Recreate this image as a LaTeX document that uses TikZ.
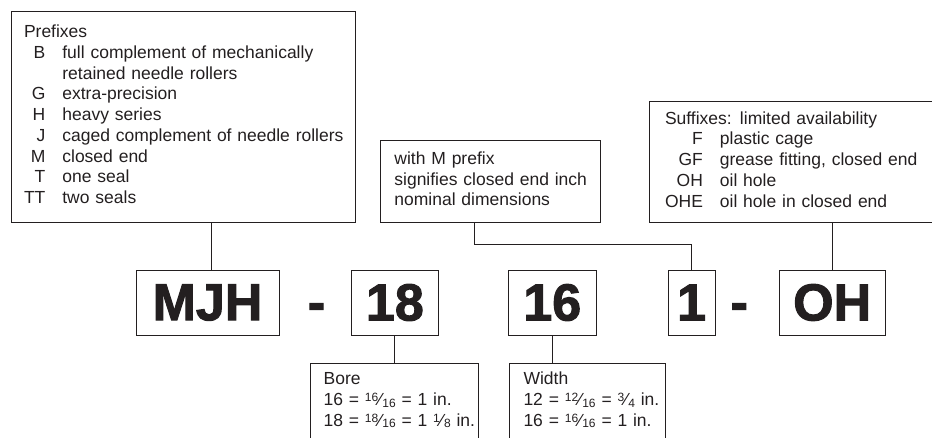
\documentclass[tikz,border=0pt]{standalone}
\usepackage{fontspec}
\setmainfont{Liberation Sans}
\newfontfamily\heavyfont{Liberation Sans Bold}[FakeBold=2]
\usepackage{tikz}
\usetikzlibrary{shapes,arrows, positioning}
\definecolor{ink}{RGB}{35,31,32}
\tikzstyle{tbox} = [draw = ink, line width = 0.9pt, text = ink, inner sep = 0pt, align = left, font = \fontsize{17.5}{20.7}\selectfont]
\tikzstyle{cbox} = [draw = ink, line width = 0.9pt, text = ink, inner sep = 0pt, minimum height = 65pt, font = \heavyfont\fontsize{52}{52}\selectfont]
\tikzstyle{hyph} = [text = ink, inner sep = 0pt, anchor = base, font = \heavyfont\fontsize{52}{52}\selectfont]
\tikzstyle{line} = [draw = ink, line width = 0.9pt]
\newcommand{\nfrac}[2]{\raisebox{4.2pt}{\fontsize{12}{12}\selectfont #1}\kern0.6pt⁄\kern0.6pt\raisebox{-1.5pt}{\fontsize{12}{12}\selectfont #2}}

\begin{document}
\begin{tikzpicture}[x = 1pt, y = -1pt]
			\useasboundingbox (0, 0) rectangle (932, 438);

			\node [tbox, minimum width = 343.6pt, minimum height = 211pt, text width = 319pt] (pre) at (183.5, 116.5) {\begin{tabular}{@{}r@{\hspace{17pt}}l@{}}
				\multicolumn{2}{@{}l@{}}{Prefixes}\\
				B & full complement of mechanically\\
				 & retained needle rollers\\
				G & extra-precision\\
				H & heavy series\\
				J & caged complement of needle rollers\\
				M & closed end\\
				T & one seal\\
				TT & two seals
			\end{tabular}};
			\node [tbox, minimum width = 220.7pt, minimum height = 82pt, text width = 191.9pt] (mnote) at (490.35, 181) {\begin{tabular}{@{}l@{}}
				with M prefix\\
				signifies closed end inch\\
				nominal dimensions
			\end{tabular}};
			\node [tbox, minimum width = 311pt, minimum height = 121pt, text width = 279pt] (suf) at (804.5, 161.5) {\begin{tabular}{@{}r@{\hspace{17pt}}l@{}}
				\multicolumn{2}{@{}l@{}}{\makebox[75pt][l]{Suffixes:}limited availability}\\
				F & plastic cage\\
				GF & grease fitting, closed end\\
				OH & oil hole\\
				OHE & oil hole in closed end
			\end{tabular}};

			\node [cbox, minimum width = 143pt] (mjh) at (207.5, 302.5) {MJH};
			\node [hyph] (h1) at (316.6, 320) {-};
			\node [cbox, minimum width = 87.7pt] (b18) at (394.9, 302.5) {18};
			\node [cbox, minimum width = 87.5pt] (w16) at (552.25, 302.5) {16};
			\node [cbox, minimum width = 47pt] (d1) at (691.5, 302.5) {1};
			\node [hyph] (h2) at (739.3, 320) {-};
			\node [cbox, minimum width = 106.3pt] (oh) at (832.2, 302.5) {OH};

			\node [tbox, minimum width = 167.7pt, minimum height = 76.5pt, text width = 141.1pt] (bore) at (394.15, 401.55) {\begin{tabular}{@{}l@{}}
				Bore\\
				16 = \nfrac{16}{16} = 1 in.\\
				18 = \nfrac{18}{16} = 1 \nfrac{1}{8} in.
			\end{tabular}};
			\node [tbox, minimum width = 155.8pt, minimum height = 76.5pt, text width = 127.8pt] (wid) at (587.4, 401.55) {\begin{tabular}{@{}l@{}}
				Width\\
				12 = \nfrac{12}{16} = \nfrac{3}{4} in.\\
				16 = \nfrac{16}{16} = 1 in.
			\end{tabular}};

			\path [line] ([xshift = 3.5pt]mjh.north) -- ++(0, -48);
			\path [line] ([xshift = -16.4pt]mnote.south) -- ++(0, 22) -| (d1.north);
			\path [line] (suf.south -| oh.north) -- (oh.north);
			\path [line] (b18.south) -- (b18.south |- bore.north);
			\path [line] (w16.south) -- (w16.south |- wid.north);
		\end{tikzpicture}
\end{document}
